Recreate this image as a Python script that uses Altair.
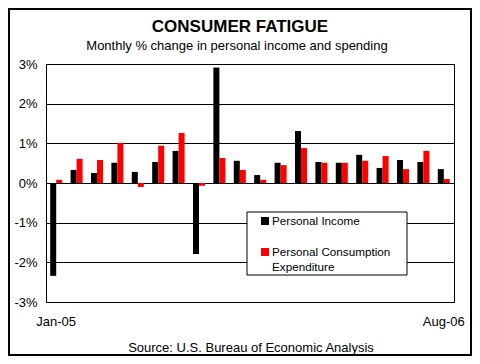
import altair as alt
import pandas as pd

MONTHS = ["Jan-05", "Feb-05", "Mar-05", "Apr-05", "May-05", "Jun-05", "Jul-05", "Aug-05",
          "Sep-05", "Oct-05", "Nov-05", "Dec-05", "Jan-06", "Feb-06", "Mar-06", "Apr-06",
          "May-06", "Jun-06", "Jul-06", "Aug-06"]
INCOME = [-2.34, 0.33, 0.25, 0.51, 0.28, 0.53, 0.81, -1.79, 2.91, 0.56,
          0.20, 0.51, 1.31, 0.53, 0.51, 0.71, 0.38, 0.58, 0.53, 0.35]
SPENDING = [0.08, 0.61, 0.58, 1.01, -0.10, 0.94, 1.26, -0.07, 0.63, 0.33,
            0.08, 0.45, 0.88, 0.51, 0.51, 0.56, 0.68, 0.35, 0.81, 0.10]
SERIES = ["Personal Income", "Personal Consumption Expenditure"]
COLORS = ["#000000", "#ff0000"]
Y_TICKS = [-3, -2, -1, 0, 1, 2, 3]
TITLE = "CONSUMER FATIGUE"
SUBTITLE = "Monthly % change in personal income and spending"
SOURCE = "Source: U.S. Bureau of Economic Analysis"

FONT = "Liberation Sans"

rows = []
for m, a, b in zip(MONTHS, INCOME, SPENDING):
    rows.append({"month": m, "series": SERIES[0], "value": a})
    rows.append({"month": m, "series": SERIES[1], "value": b})
df = pd.DataFrame(rows)

bars = alt.Chart(df).mark_bar().encode(
    x=alt.X("month:N", sort=MONTHS,
            scale=alt.Scale(paddingInner=0.41, paddingOuter=0.205),
            axis=alt.Axis(title=None, ticks=False, domain=False, labelAngle=0,
                          labelFontSize=13, labelColor="black", labelFont=FONT,
                          labelPadding=13,
                          labelExpr="datum.label == 'Jan-05' || datum.label == 'Aug-06' ? datum.label : ''")),
    xOffset=alt.XOffset("series:N", sort=SERIES),
    y=alt.Y("value:Q", scale=alt.Scale(domain=[-3, 3], nice=False),
            axis=alt.Axis(title=None, values=Y_TICKS, grid=True, gridColor="black",
                          gridOpacity=1, gridWidth=1, domain=True, domainColor="black",
                          ticks=False, labelFontSize=13, labelColor="black",
                          labelFont=FONT, labelPadding=9,
                          labelExpr="datum.value + '%'")),
    color=alt.Color("series:N", scale=alt.Scale(domain=SERIES, range=COLORS), legend=None),
)

one = pd.DataFrame({"k": [0]})

def txt(s, x, y, size=13, weight="normal", align="center"):
    return alt.Chart(pd.DataFrame({"t": [s]})).mark_text(
        font=FONT, fontSize=size, fontWeight=weight, color="black",
        align=align, baseline="middle").encode(
        text="t:N", x=alt.value(x), y=alt.value(y))

title = txt(TITLE, 194, -37, size=17, weight="bold")
subtitle = txt(SUBTITLE, 191, -18, size=13)
source = txt(SOURCE, 205, 284, size=13)

legend_box = alt.Chart(one).mark_rect(fill="white", stroke="black", strokeWidth=1).encode(
    x=alt.value(201), x2=alt.value(361), y=alt.value(148), y2=alt.value(211))
sq1 = alt.Chart(one).mark_square(size=64, color=COLORS[0], opacity=1).encode(
    x=alt.value(219), y=alt.value(157))
sq2 = alt.Chart(one).mark_square(size=64, color=COLORS[1], opacity=1).encode(
    x=alt.value(219), y=alt.value(188))
l1 = txt("Personal Income", 226, 157, size=11.7, align="left")
l2 = txt("Personal Consumption", 226, 188, size=11.7, align="left")
l3 = txt("Expenditure", 226, 203, size=11.7, align="left")

frame = alt.Chart(one).mark_rect(fill=None, stroke="black", strokeWidth=2).encode(
    x=alt.value(-37), x2=alt.value(425), y=alt.value(-55), y2=alt.value(291))

chart = alt.layer(bars, title, subtitle, source, legend_box, sq1, sq2, l1, l2, l3, frame).properties(
    width=408, height=238,
    autosize=alt.AutoSizeParams(type="none"),
    padding={"left": 38, "top": 56, "right": 18, "bottom": 54},
    background="white",
).configure_view(stroke="black", strokeWidth=1)

chart.save("out.html", embed_options={"renderer": "svg", "actions": False})
